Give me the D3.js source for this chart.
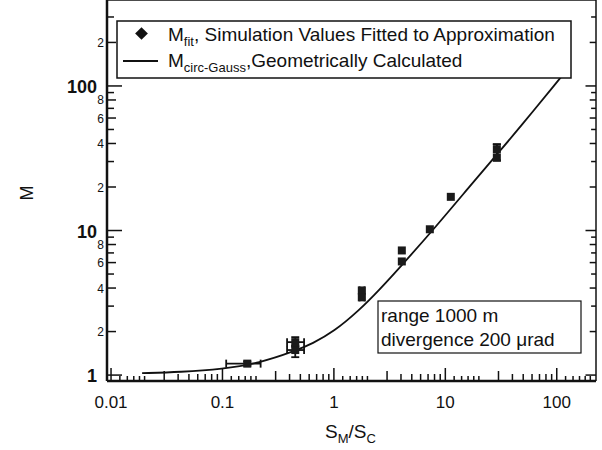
<!DOCTYPE html>
<html>
<head>
<meta charset="utf-8">
<script src="https://cdn.jsdelivr.net/npm/d3@7"></script>
<style>
  body { margin: 0; background: #fff; }
  text { font-family: "Liberation Sans", Arial, sans-serif; fill: #111; }
</style>
</head>
<body>
<script>
// simulation points (S_M/S_C, M) and their error limits
var ptX   = [0.167, 0.45, 0.45, 1.78, 1.78, 4.07, 4.07, 7.26, 11.2, 29, 29];
var ptY   = [1.2, 1.69, 1.49, 3.85, 3.45, 7.28, 6.11, 10.2, 17.1, 36.5, 32];
var xErrLo = [0.108, 0.38, 0.38, 1.7, 1.7, null, null, null, null, null, null];
var xErrHi = [0.22, 0.54, 0.54, 1.88, 1.88, null, null, null, null, null, null];
var yErrLo = [1.16, 1.6, 1.33, null, null, null, null, null, null, 30.5, 30.5];
var yErrHi = [1.24, 1.83, 1.57, null, null, null, null, null, null, 39.5, 39.5];

// geometrically calculated curve
var curveX = [0.019, 0.042, 0.1, 0.215, 0.45, 0.64, 1.0, 1.68, 2.53, 4.07, 8.2, 16.2, 28.9, 45.6, 110];
var curveY = [1.03, 1.05, 1.10, 1.21, 1.47, 1.65, 2.0, 2.8, 3.85, 5.75, 10.6, 19.8, 33.5, 50.5, 116];

var xMajor = [0.01, 0.1, 1, 10, 100];
var xMajorLabels = ["0.01", "0.1", "1", "10", "100"];
var yMajor = [1, 10, 100];
var yMajorLabels = ["1", "10", "100"];
var yMinorLabelled = [2, 4, 6, 8, 20, 40, 60, 80, 200];

var width = 602, height = 450;

var svg = d3.select('body')
  .append('svg')
  .attr('width', width)
  .attr('height', height);

var x = d3.scaleLog().domain([0.0092, 225]).range([107, 596]);
var y = d3.scaleLog().domain([0.91, 330]).range([381, 11]);

var left = x.range()[0], right = x.range()[1];
var bottom = y.range()[0], top = y.range()[1];

// tick positions
var xTicks = [];
[0.001, 0.01, 0.1, 1, 10, 100].forEach(function(dec) {
  [1, 1.2, 1.4, 1.6, 1.8, 2, 3, 4, 5, 6, 7, 8, 9].forEach(function(m) {
    var v = dec * m;
    if (v < x.domain()[0] || v > x.domain()[1]) return;
    var len = m === 1 ? 13 : (m === 3 ? 10 : (m < 2.5 ? 5 : 7));
    xTicks.push({v: v, len: len});
  });
});
var yTicks = [];
[0.1, 1, 10, 100].forEach(function(dec) {
  [1, 2, 3, 4, 5, 6, 7, 8, 9].forEach(function(m) {
    var v = dec * m;
    if (v < y.domain()[0] || v > y.domain()[1]) return;
    var len = m === 1 ? 15 : (m % 2 === 0 ? 9 : 7);
    yTicks.push({v: v, len: len});
  });
});

var ticks = svg.append('g').attr('stroke', '#111').attr('stroke-width', 1.5);
ticks.selectAll('.xb').data(xTicks).enter().append('line')
  .attr('x1', d => x(d.v)).attr('x2', d => x(d.v))
  .attr('y1', bottom).attr('y2', d => bottom - d.len);
ticks.selectAll('.xt').data(xTicks).enter().append('line')
  .attr('x1', d => x(d.v)).attr('x2', d => x(d.v))
  .attr('y1', top).attr('y2', d => top + d.len * 0.6);
ticks.selectAll('.yl').data(yTicks).enter().append('line')
  .attr('y1', d => y(d.v)).attr('y2', d => y(d.v))
  .attr('x1', left).attr('x2', d => left + d.len);
ticks.selectAll('.yr').data(yTicks).enter().append('line')
  .attr('y1', d => y(d.v)).attr('y2', d => y(d.v))
  .attr('x1', right).attr('x2', d => right - d.len * 0.7);

// frame
svg.append('line').attr('x1', left).attr('x2', left).attr('y1', top).attr('y2', bottom)
  .attr('stroke', '#111').attr('stroke-width', 2.5);
svg.append('line').attr('x1', left).attr('x2', right).attr('y1', bottom).attr('y2', bottom)
  .attr('stroke', '#111').attr('stroke-width', 2.5);
svg.append('line').attr('x1', left).attr('x2', right).attr('y1', top).attr('y2', top)
  .attr('stroke', '#111').attr('stroke-width', 1.5);
svg.append('line').attr('x1', right).attr('x2', right).attr('y1', top).attr('y2', bottom)
  .attr('stroke', '#111').attr('stroke-width', 1.5);

// tick labels
svg.selectAll('.xlab').data(xMajor).enter().append('text')
  .attr('x', d => x(d)).attr('y', 408)
  .attr('text-anchor', 'middle').attr('font-size', 17)
  .text((d, i) => xMajorLabels[i]);
svg.selectAll('.ylab').data(yMajor).enter().append('text')
  .attr('x', left - 10).attr('y', d => y(d) + 7)
  .attr('text-anchor', 'end').attr('font-size', 18).attr('font-weight', 'bold')
  .text((d, i) => yMajorLabels[i]);
svg.selectAll('.ymin').data(yMinorLabelled).enter().append('text')
  .attr('x', left - 3).attr('y', d => y(d) + 4.5)
  .attr('text-anchor', 'end').attr('font-size', 12)
  .text(d => String(d).charAt(0));

// axis titles
svg.append('text')
  .attr('transform', 'translate(33,193) rotate(-90)')
  .attr('text-anchor', 'middle').attr('font-size', 18)
  .text('M');
var xt = svg.append('text').attr('x', 325).attr('y', 438).attr('font-size', 19);
xt.append('tspan').text('S');
xt.append('tspan').attr('font-size', 13).attr('dy', 5).text('M');
xt.append('tspan').attr('dy', -5).text('/S');
xt.append('tspan').attr('font-size', 13).attr('dy', 5).text('C');

// curve
var line = d3.line()
  .x((d, i) => x(curveX[i]))
  .y((d, i) => y(curveY[i]))
  .curve(d3.curveBasis);
svg.append('path')
  .datum(curveX)
  .attr('d', line)
  .attr('fill', 'none')
  .attr('stroke', '#111')
  .attr('stroke-width', 1.8);

// error bars
var eb = svg.append('g').attr('stroke', '#111').attr('stroke-width', 1.8);
var cap = 4;
ptX.forEach(function(px, i) {
  var cx = x(px), cy = y(ptY[i]);
  if (xErrLo[i] != null) {
    eb.append('line').attr('x1', x(xErrLo[i])).attr('x2', x(xErrHi[i])).attr('y1', cy).attr('y2', cy);
    eb.append('line').attr('x1', x(xErrLo[i])).attr('x2', x(xErrLo[i])).attr('y1', cy - cap).attr('y2', cy + cap);
    eb.append('line').attr('x1', x(xErrHi[i])).attr('x2', x(xErrHi[i])).attr('y1', cy - cap).attr('y2', cy + cap);
  }
  if (yErrLo[i] != null) {
    eb.append('line').attr('x1', cx).attr('x2', cx).attr('y1', y(yErrLo[i])).attr('y2', y(yErrHi[i]));
    eb.append('line').attr('x1', cx - cap).attr('x2', cx + cap).attr('y1', y(yErrLo[i])).attr('y2', y(yErrLo[i]));
    eb.append('line').attr('x1', cx - cap).attr('x2', cx + cap).attr('y1', y(yErrHi[i])).attr('y2', y(yErrHi[i]));
  }
});

// markers
var ms = 8;
svg.selectAll('.pt').data(ptX).enter().append('rect')
  .attr('x', d => x(d) - ms / 2)
  .attr('y', (d, i) => y(ptY[i]) - ms / 2)
  .attr('width', ms).attr('height', ms)
  .attr('fill', '#1a1a1a');

// legend
var lg = svg.append('g');
lg.append('rect').attr('x', 117).attr('y', 21).attr('width', 454).attr('height', 57)
  .attr('fill', '#fff').attr('stroke', '#111').attr('stroke-width', 1.5);
lg.append('rect').attr('x', 137).attr('y', 29).attr('width', 9).attr('height', 9)
  .attr('transform', 'rotate(45,141.5,33.5)').attr('fill', '#111');
lg.append('line').attr('x1', 123).attr('x2', 158).attr('y1', 61).attr('y2', 61)
  .attr('stroke', '#111').attr('stroke-width', 1.8);
var t1 = lg.append('text').attr('x', 168).attr('y', 41).attr('font-size', 19);
t1.append('tspan').text('M');
t1.append('tspan').attr('font-size', 13).attr('dy', 5).text('fit');
t1.append('tspan').attr('dy', -5).text(', Simulation Values Fitted to Approximation');
var t2 = lg.append('text').attr('x', 168).attr('y', 67).attr('font-size', 19);
t2.append('tspan').text('M');
t2.append('tspan').attr('font-size', 13).attr('dy', 5).text('circ-Gauss');
t2.append('tspan').attr('dy', -5).text(',Geometrically Calculated');

// annotation box
var ab = svg.append('g');
ab.append('rect').attr('x', 378).attr('y', 301).attr('width', 203).attr('height', 52)
  .attr('fill', '#fff').attr('stroke', '#111').attr('stroke-width', 1.2);
ab.append('text').attr('x', 381).attr('y', 322).attr('font-size', 19).text('range 1000 m');
ab.append('text').attr('x', 381).attr('y', 346).attr('font-size', 19).text('divergence 200 \u03bcrad');
</script>
</body>
</html>
